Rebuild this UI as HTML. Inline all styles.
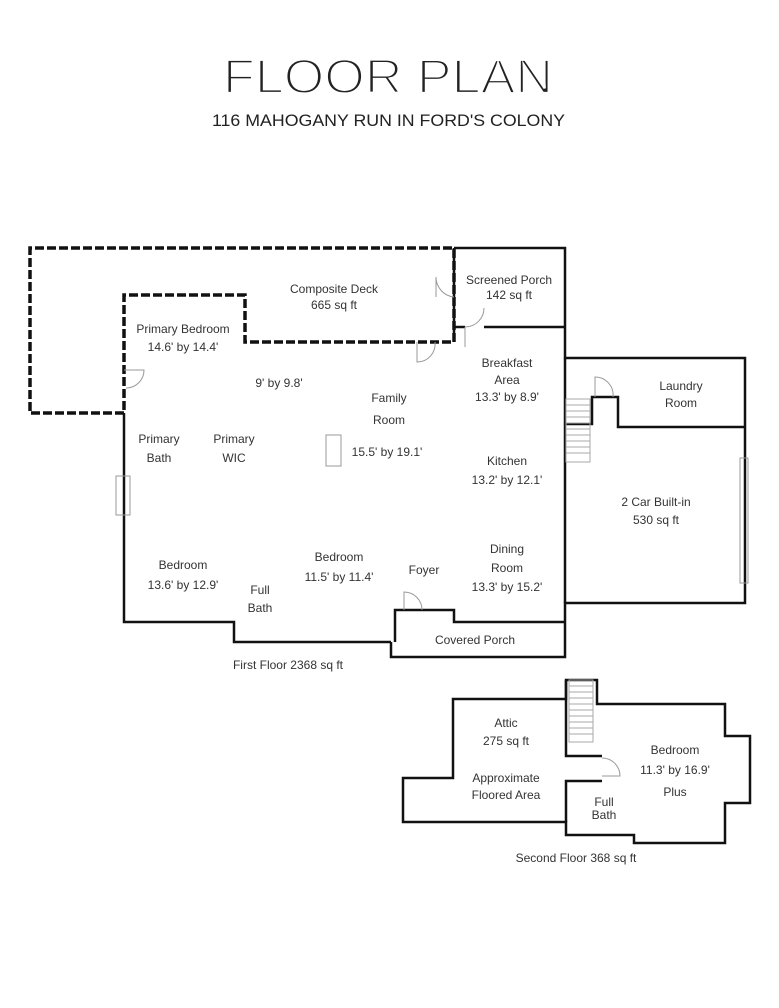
<!DOCTYPE html>
<html><head><meta charset="utf-8"><style>
html,body{margin:0;padding:0;background:#fff;}
svg{display:block;}
text{font-family:"Liberation Sans",sans-serif;fill:#333;}
</style></head><body>
<svg width="779" height="1008" viewBox="0 0 779 1008" xmlns="http://www.w3.org/2000/svg">
<rect width="779" height="1008" fill="#fff"/>
<text x="223" y="93" font-size="48" textLength="330" lengthAdjust="spacingAndGlyphs" style="fill:#222;stroke:#fff;stroke-width:2.2">FLOOR PLAN</text>
<text x="212" y="126" font-size="17" textLength="353" lengthAdjust="spacingAndGlyphs" style="fill:#222">116 MAHOGANY RUN IN FORD'S COLONY</text>

<g fill="none" stroke="#111" stroke-width="3.5" stroke-dasharray="9,3">
<polyline points="124,413 30,413 30,248 454,248 454,342 245,342 245,295 124,295 124,413"/>
</g>
<g fill="none" stroke="#111" stroke-width="2.5">
<polyline points="124,413 124,622 234,622 234,642 391,642"/>
<polyline points="395,642 395,610 454,610 454,622 565,622"/>
<polyline points="391,642 391,657 565,657 565,622"/>
<polyline points="454,248 565,248 565,358 745,358 745,603 565,603 565,622"/>
<line x1="565" y1="358" x2="565" y2="603"/>
<polyline points="454,327 465,327"/>
<polyline points="484,327 565,327"/>
<polyline points="454,248 454,342"/>
<polyline points="565,424 592,424 592,397 618,397 618,427 745,427"/>
<polygon points="403,778 403,822 566,822 566,835 634,835 634,843 725,843 725,803 750,803 750,736 725,736 725,704 597,704 597,680 566,680 566,699 453,699 453,778"/>
<polyline points="566,680 566,756 602,756"/>
<polyline points="566,822 566,781 602,781"/>
</g>
<g fill="none" stroke="#999" stroke-width="1">
<rect x="326" y="435" width="15" height="31"/>
<rect x="116" y="476" width="14" height="39"/>
<rect x="740" y="458" width="8" height="125"/>
<path d="M436,277 v20 M436,277 a20,20 0 0 0 18,20"/>
<path d="M465,327 v20 M465,327 a19,19 0 0 0 19,-19" />
<path d="M417,342 v20 a18,18 0 0 0 18,-20"/>
<path d="M124,370 h20 a18,18 0 0 1 -18,18"/>
<path d="M404,610 v-18 a18,18 0 0 1 18,18"/>
<path d="M595,397 v-20 a18,18 0 0 1 18,20"/>
<path d="M602,758 a18,18 0 0 1 18,18 h-18"/>
<g stroke="#aaa">
<rect x="566" y="399" width="24" height="63"/>
<path d="M566,405h24M566,411h24M566,417h24M566,423h24M566,429h24M566,435h24M566,441h24M566,447h24M566,453h24"/>
<rect x="569" y="680" width="24" height="62"/>
<path d="M569,686h24M569,692h24M569,698h24M569,704h24M569,710h24M569,716h24M569,722h24M569,728h24M569,734h24"/>
</g>
</g>
<g font-size="12" text-anchor="middle">
<text x="334" y="293">Composite Deck</text><text x="334" y="309">665 sq ft</text>
<text x="509" y="284">Screened Porch</text><text x="509" y="299">142 sq ft</text>
<text x="183" y="333">Primary Bedroom</text><text x="183" y="351">14.6' by 14.4'</text>
<text x="279" y="387">9' by 9.8'</text>
<text x="389" y="402">Family</text><text x="389" y="424">Room</text><text x="387" y="456">15.5' by 19.1'</text>
<text x="507" y="367">Breakfast</text><text x="507" y="384">Area</text><text x="507" y="401">13.3' by 8.9'</text>
<text x="159" y="443">Primary</text><text x="159" y="462">Bath</text>
<text x="234" y="443">Primary</text><text x="234" y="462">WIC</text>
<text x="507" y="465">Kitchen</text><text x="507" y="484">13.2' by 12.1'</text>
<text x="183" y="569">Bedroom</text><text x="183" y="589">13.6' by 12.9'</text>
<text x="260" y="594">Full</text><text x="260" y="612">Bath</text>
<text x="339" y="561">Bedroom</text><text x="339" y="581">11.5' by 11.4'</text>
<text x="424" y="574">Foyer</text>
<text x="507" y="553">Dining</text><text x="507" y="572">Room</text><text x="507" y="591">13.3' by 15.2'</text>
<text x="475" y="644">Covered Porch</text>
<text x="288" y="669">First Floor 2368 sq ft</text>
<text x="681" y="390">Laundry</text><text x="681" y="407">Room</text>
<text x="656" y="506">2 Car Built-in</text><text x="656" y="524">530 sq ft</text>
<text x="506" y="727">Attic</text><text x="506" y="745">275 sq ft</text>
<text x="506" y="782">Approximate</text><text x="506" y="799">Floored Area</text>
<text x="604" y="806">Full</text><text x="604" y="819">Bath</text>
<text x="675" y="754">Bedroom</text><text x="675" y="774">11.3' by 16.9'</text><text x="675" y="796">Plus</text>
<text x="576" y="862">Second Floor 368 sq ft</text>
</g>
</svg>
</body></html>
